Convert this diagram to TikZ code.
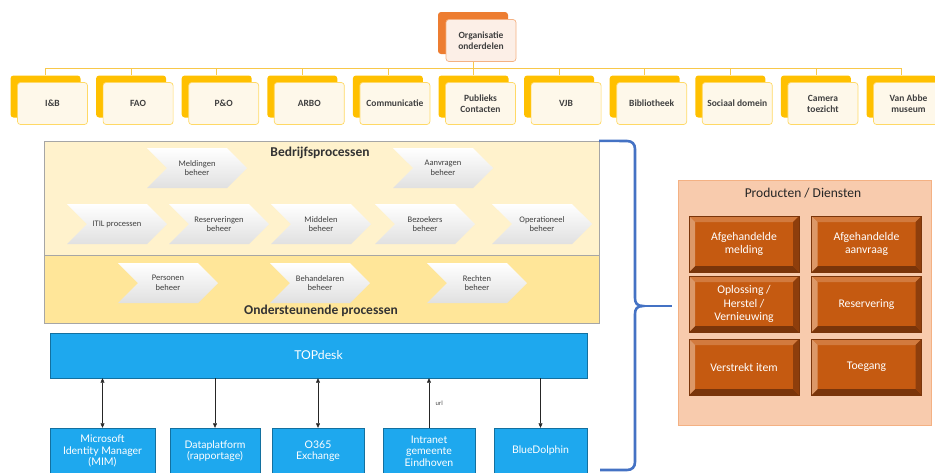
\documentclass[tikz,border=0pt]{standalone}
\usepackage{fontspec}
\setmainfont{Carlito}
\newfontfamily\latofont{Lato}
\usetikzlibrary{shapes.symbols,positioning,arrows.meta}

\definecolor{orgorange}{HTML}{ED7D31}
\definecolor{orgpink}{HTML}{FCEFE7}
\definecolor{orgline}{HTML}{F4B183}
\definecolor{unitgold}{HTML}{FFC000}
\definecolor{unitcream}{HTML}{FEF8EA}
\definecolor{unitline}{HTML}{FFD966}
\definecolor{treeline}{HTML}{F8C84A}
\definecolor{bandlight}{HTML}{FFF2CC}
\definecolor{banddark}{HTML}{FFE699}
\definecolor{bluefill}{HTML}{1EA8EE}
\definecolor{bluedark}{HTML}{13709F}
\definecolor{bracecol}{HTML}{4472C4}
\definecolor{prodfill}{HTML}{F8CBAD}
\definecolor{bevbody}{HTML}{C55A11}
\definecolor{bevtop}{HTML}{D27A3E}
\definecolor{bevleft}{HTML}{DC9868}
\definecolor{bevright}{HTML}{8E3E0C}
\definecolor{bevbottom}{HTML}{7A350A}

\begin{document}
\begin{tikzpicture}[x=1pt,y=-1pt,
   unit/.style={rectangle,rounded corners=3pt,minimum width=70pt,minimum height=42pt,
      inner sep=1pt,align=center,font=\fontsize{9.5}{11}\selectfont\bfseries,text=black!75},
   unitback/.style={unit,fill=unitgold},
   unitfront/.style={unit,draw=unitline,fill=unitcream,line width=0.7pt},
   tree/.style={draw=treeline,line width=0.8pt},
   band/.style={rectangle,draw=black!35,minimum width=555pt,inner sep=0pt},
   bandtitle/.style={font=\fontsize{13.5}{15}\selectfont\bfseries,text=black!80},
   chev/.style={signal,signal to=east,signal from=west,minimum width=100pt,minimum height=40pt,
      inner sep=1pt,align=center,top color=white,bottom color=black!12,
      font=\fontsize{8.5}{9.5}\selectfont,text=black!75},
   sys/.style={rectangle,draw=bluedark,fill=bluefill,text=white,align=center,inner sep=1pt,
      minimum height=46pt,font=\latofont\fontsize{10.5}{11.5}\selectfont},
   link/.style={draw=black!85,line width=0.5pt,-{Triangle[length=4.5pt,width=4pt]}},
   linkboth/.style={link,{Triangle[length=4.5pt,width=4pt]}-{Triangle[length=4.5pt,width=4pt]}},
   brace/.style={draw=bracecol,line width=2.6pt},
   bevel/.style={rectangle,fill=bevbody,draw=bevbottom,line width=0.4pt,minimum width=110pt,
      minimum height=56pt,align=center,text=white,font=\fontsize{11.7}{13.5}\selectfont,
      path picture={
         \fill[bevtop] (path picture bounding box.north west) -- (path picture bounding box.north east)
            -- ++(-6pt,-6pt) -- ([shift={(6pt,-6pt)}]path picture bounding box.north west) -- cycle;
         \fill[bevbottom] (path picture bounding box.south west) -- (path picture bounding box.south east)
            -- ++(-6pt,6pt) -- ([shift={(6pt,6pt)}]path picture bounding box.south west) -- cycle;
         \fill[bevleft] (path picture bounding box.north west) -- (path picture bounding box.south west)
            -- ++(6pt,6pt) -- ([shift={(6pt,-6pt)}]path picture bounding box.north west) -- cycle;
         \fill[bevright] (path picture bounding box.north east) -- (path picture bounding box.south east)
            -- ++(-6pt,6pt) -- ([shift={(-6pt,-6pt)}]path picture bounding box.north east) -- cycle;
      }}
]
\clip (0,0) rectangle (935,472);

% organisatie boom
\node[unit,fill=orgorange] (orgb) at (473,33) {};
\node[unit,draw=orgline,fill=orgpink,line width=0.7pt] (org) at (481,40.5) {Organisatie\\onderdelen};
\coordinate (bus) at (0,68);
\foreach \txt [count=\i from 0] in {I\&B,FAO,P\&O,ARBO,Communicatie,{Publieks\\Contacten},VJB,
      Bibliotheek,Sociaal domein,{Camera\\toezicht},{Van Abbe\\museum}} {
   \node[unitback] (u\i b) at (45.5+85.6*\i,96.5) {};
   \node[unitfront] (u\i) at (52.5+85.6*\i,103.5) {\txt};
   \draw[tree] (u\i b.north |- bus) -- (u\i b.north);
}
\draw[tree] (u0b.north |- bus) -- (u10b.north |- bus);
\draw[tree] (orgb.north |- org.south) -- (orgb.north |- bus);

% processen
\node[band,fill=bandlight,minimum height=114pt] (bedrijf) at (321.5,198) {};
\node[band,fill=banddark,minimum height=68pt] (onder) at (321.5,289) {};
\node[bandtitle] (bedrijft) at (320,153) {Bedrijfsprocessen};
\node[bandtitle] (ondert) at (321,311) {Ondersteunende processen};

\node[chev] (meld) at (197,168) {Meldingen\\beheer};
\node[chev] (aanv) at (443,168) {Aanvragen\\beheer};
\node[chev] (itil) at (117,224) {ITIL processen};
\node[chev] (reserv) at (219,224) {Reserveringen\\beheer};
\node[chev] (midd) at (321,224) {Middelen\\beheer};
\node[chev] (bezoek) at (425,224) {Bezoekers\\beheer};
\node[chev] (operat) at (542,224) {Operationeel\\beheer};
\node[chev] (pers) at (168,283) {Personen\\beheer};
\node[chev] (behand) at (320,283) {Behandelaren\\beheer};
\node[chev] (recht) at (477,283) {Rechten\\beheer};

% systemen
\node[sys,minimum width=537pt,minimum height=45pt,font=\latofont\fontsize{12.2}{14}\selectfont] (top) at (318.5,355.5) {TOPdesk};
\node[sys,minimum width=105pt] (mim) at (102.5,451) {Microsoft\\Identity Manager\\(MIM)};
\node[sys,minimum width=90pt] (data) at (215,451) {Dataplatform\\(rapportage)};
\node[sys,minimum width=92pt] (exch) at (318,451) {O365\\Exchange};
\node[sys,minimum width=92pt] (intra) at (429,451) {Intranet\\gemeente\\Eindhoven};
\node[sys,minimum width=93pt] (blue) at (540.5,451) {BlueDolphin};

\draw[linkboth] (mim.north) -- (mim.north |- top.south);
\draw[link] (data.north |- top.south) -- (data.north);
\draw[linkboth] (exch.north) -- (exch.north |- top.south);
\draw[link] (intra.north) -- (intra.north |- top.south)
   node[midway,right=3pt,font=\fontsize{6.5}{7}\selectfont,text=black!70] {url};
\draw[link] (blue.north |- top.south) -- (blue.north);

% accolade
\coordinate (tip) at (643,306);
\coordinate (tipend) at (672,306);
\draw[brace] (bedrijf.north east) -- (627,141) .. controls (632,141) and (635,144) .. (635,149)
   -- (635,298) .. controls (635,303) and (637,306) .. (tip)
   .. controls (637,306) and (635,309) .. (635,314)
   -- (635,462) .. controls (635,467) and (632,470) .. (627,470) -- (600,470);
\draw[brace] (tip) -- (tipend);

% producten
\node[rectangle,fill=prodfill,draw=orgline,line width=0.4pt,minimum width=253pt,minimum height=245pt] (prod) at (804.5,302.5) {};
\node[font=\fontsize{13.5}{15}\selectfont,text=black!85] (prodt) at (803,193) {Producten / Diensten};
\node[bevel] (p1) at (744,244) {Afgehandelde\\melding};
\node[bevel] (p2) at (866.5,244) {Afgehandelde\\aanvraag};
\node[bevel] (p3) at (744,304) {Oplossing /\\Herstel /\\Vernieuwing};
\node[bevel] (p4) at (866.5,304) {Reservering};
\node[bevel] (p5) at (744,367) {Verstrekt item};
\node[bevel] (p6) at (866.5,367) {Toegang};
\end{tikzpicture}
\end{document}
